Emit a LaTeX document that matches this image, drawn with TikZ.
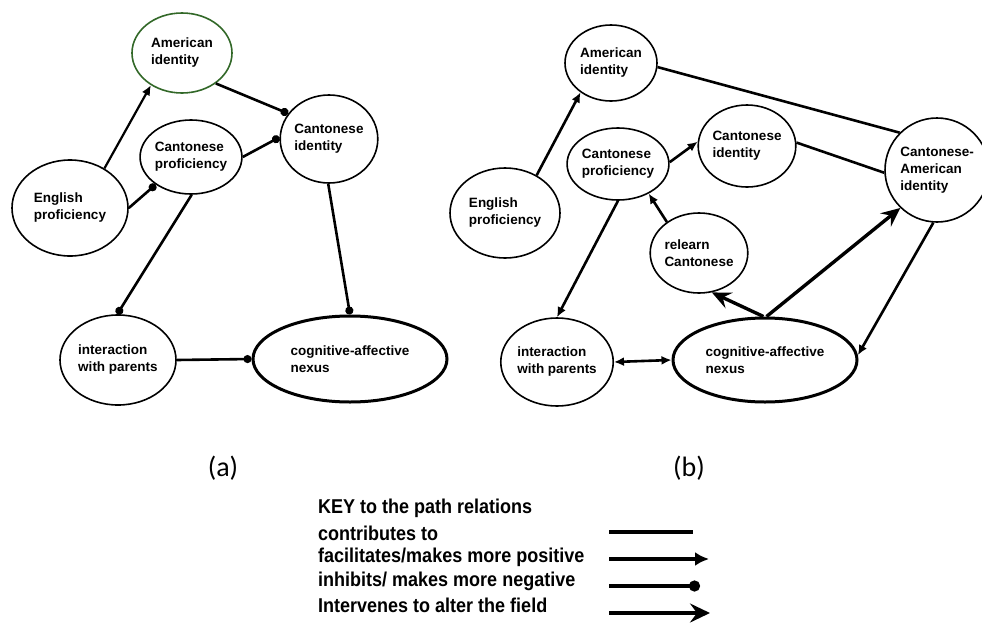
\documentclass[tikz,border=0pt]{standalone}
\usepackage{fontspec}
\setmainfont{Liberation Sans}
\newfontfamily\capfont{Carlito}
\newfontfamily\keyfont[FakeStretch=0.9]{Liberation Sans}
\usetikzlibrary{shapes.geometric,arrows.meta}
\definecolor{idgreen}{RGB}{50,104,40}

\begin{document}
\begin{tikzpicture}[x=1pt,y=-1pt,
    bubble/.style={draw,ellipse,line width=1.6pt,inner sep=0pt,align=left,
        font=\fontsize{13.5}{17}\selectfont\bfseries},
    contrib/.style={line width=2.6pt},
    facil/.style={contrib,-{Latex[length=10pt,width=9pt]}},
    inhib/.style={contrib,-{Circle[length=8pt]}},
    interv/.style={line width=3.4pt,-{Stealth[length=19pt,width=17pt,inset=7pt]}},
    twoway/.style={contrib,{Latex[length=10pt,width=9pt]}-{Latex[length=10pt,width=9pt]}},
    keyline/.style={line width=4pt},
    keyfacil/.style={keyline,-{Latex[length=14pt,width=14pt]}},
    keyinhib/.style={keyline,-{Circle[length=11pt]}},
    keyinterv/.style={keyline,-{Stealth[length=20pt,width=19pt,inset=7pt]}}]
        \useasboundingbox (0,0) rectangle (982,624);

        % panel (a)
        \node[bubble,draw=idgreen,minimum width=100pt,minimum height=80pt] (aAm) at (182,53) {American\\identity};
        \node[bubble,line width=3pt,minimum width=194pt,minimum height=86pt] (aCn) at (350,359) {cognitive-affective\\nexus};
        \foreach \n/\x/\y/\w/\h/\t in {aCi/329/139/96/88/{Cantonese\\identity},
            aCp/191/157/96/74/{Cantonese\\proficiency},
            aEn/70/208/116/96/{English\\proficiency},
            aIp/118/360/116/90/{interaction\\with parents}}
        {
            \node[bubble,minimum width=\w pt,minimum height=\h pt] (\n) at (\x,\y) {\t};
        }
        \draw[facil,line width=2.2pt] (aEn.49) -- (aAm.226);
        \draw[inhib] (aAm.318) -- (aCi.148);
        \draw[inhib] (aCp.0) -- (aCi.178);
        \draw[inhib] (aEn.0) -- (aCp.218);
        \draw[inhib] (aCp.271) -- (aIp.91);
        \draw[inhib] (aCi.269) -- (aCn.90);
        \draw[inhib] (aIp.0) -- (aCn.180);

        % panel (b)
        \node[bubble,line width=3pt,minimum width=184pt,minimum height=84pt] (bCn) at (765,360) {cognitive-affective\\nexus};
        \foreach \n/\x/\y/\w/\h/\t in {bAm/611/63/92/76/{American\\identity},
            bEn/505/213/110/90/{English\\proficiency},
            bCp/618/164/90/72/{Cantonese\\proficiency},
            bCi/747/146/90/82/{Cantonese\\identity},
            bCa/937/170/90/104/{Cantonese-\\American\\identity},
            bRc/699/253/90/80/{relearn\\Cantonese},
            bIp/557/362/110/88/{interaction\\with parents}}
        {
            \node[bubble,minimum width=\w pt,minimum height=\h pt] (\n) at (\x,\y) {\t};
        }
        \draw[facil] (bEn.50) -- (bAm.224);
        \draw[contrib] (bAm.355) -- (bCa.135);
        \draw[facil] (bCp.2) -- (bCi.175);
        \draw[contrib] (bCi.4) -- (bCa.183);
        \draw[facil] (bCp.270) -- (bIp.90);
        \draw[facil] (bRc.136) -- (bCp.316);
        \draw[interv] (bCn.92) -- (bRc.288);
        \draw[interv] (bCn.88) -- (bCa.226);
        \draw[facil] (bCa.266) -- (bCn.3);
        \draw[twoway] (bIp.0) -- (bCn.180);

        \node[font=\capfont\fontsize{28}{32}\selectfont] (capA) at (223,468) {(a)};
        \node[font=\capfont\fontsize{28}{32}\selectfont] (capB) at (689,468) {(b)};

        % key
        \foreach \k/\y/\t in {kHead/508/{KEY to the path relations},
            kC/533/{contributes to},
            kF/557/{facilitates/makes more positive},
            kI/581/{inhibits/ makes more negative},
            kV/605/{Intervenes to alter the field}}
        {
            \node[anchor=west,inner sep=0pt,font=\keyfont\fontsize{20}{22}\selectfont\bfseries] (\k) at (318,\y) {\t};
        }
        \coordinate (k1a) at (609,532); \coordinate (k1b) at (693,532);
        \coordinate (k2a) at (609,559); \coordinate (k2b) at (709,559);
        \coordinate (k3a) at (609,586); \coordinate (k3b) at (700,586);
        \coordinate (k4a) at (609,613); \coordinate (k4b) at (710,613);
        \draw[keyline] (k1a) -- (k1b);
        \draw[keyfacil] (k2a) -- (k2b);
        \draw[keyinhib] (k3a) -- (k3b);
        \draw[keyinterv] (k4a) -- (k4b);

    \end{tikzpicture}
\end{document}
